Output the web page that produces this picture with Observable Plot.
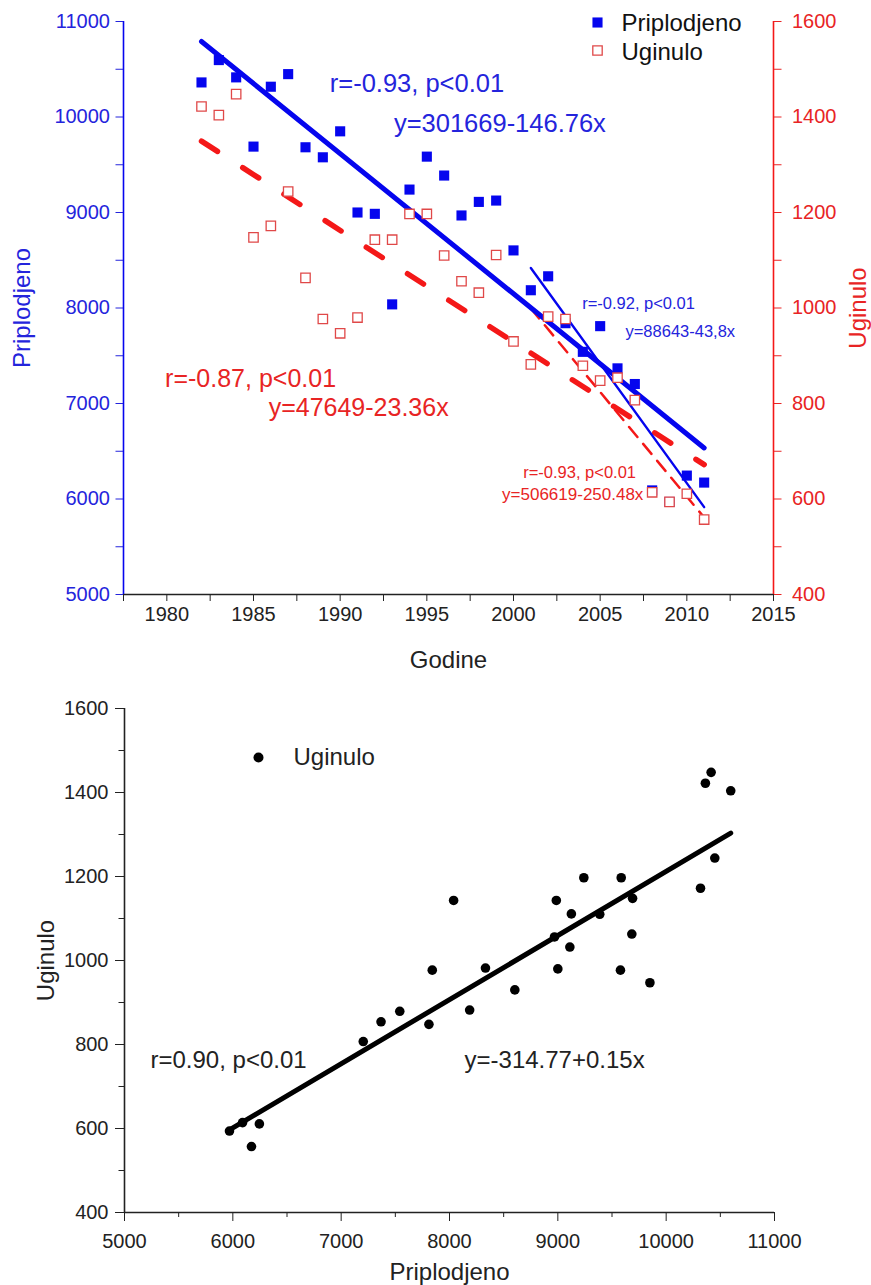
<!DOCTYPE html>
<html>
<head>
<meta charset="utf-8">
<script src="https://cdn.jsdelivr.net/npm/d3@7"></script>
<script src="https://cdn.jsdelivr.net/npm/@observablehq/plot@0.6"></script>
<style>
  html, body { margin: 0; padding: 0; background: #fff; }
  #wrap { width: 871px; height: 1285px; overflow: hidden; font-family: "Liberation Sans", Arial, sans-serif; }
  #wrap svg { display: block; }
</style>
</head>
<body>
<div id="wrap"></div>
<script>
// ---------------- data ----------------
const years = [1982, 1983, 1984, 1985, 1986, 1987, 1988, 1989, 1990, 1991,
               1992, 1993, 1994, 1995, 1996, 1997, 1998, 1999, 2000, 2001,
               2002, 2003, 2004, 2005, 2006, 2007, 2008, 2009, 2010, 2011];
const priplodjeno = [10362, 10596, 10415, 9690, 10317, 10449, 9683, 9578, 9850, 9000,
                     8986, 8038, 9240, 9585, 9387, 8969, 9111, 9125, 8603, 8186,
                     8332, 7841, 7541, 7810, 7368, 7204, 6090, 5969, 6245, 6172];
const uginulo = [1422, 1404, 1448, 1148, 1172, 1244, 1063, 977, 947, 980,
                 1143, 1143, 1197, 1197, 1110, 1056, 1032, 1111, 930, 882,
                 982, 977, 879, 848, 854, 807, 614, 594, 611, 557];

// fitted lines (intercept a, slope b, range)
const fitPriplodjeno = {a: 301669, b: -146.76, from: 1982, to: 2011};
const fitUginulo = {a: 47649, b: -23.36, from: 1982, to: 2011};
const fitPriplodjenoLate = {a: 509630, b: -250.48, from: 2001, to: 2011};
const fitUginuloLate = {a: 88643, b: -43.8, from: 2001, to: 2011};
const fitScatter = {a: -314.77, b: 0.1527};

// tick values
const yearMajor = [1980, 1985, 1990, 1995, 2000, 2005, 2010, 2015];
const yearMinor = [1977.5, 1982.5, 1987.5, 1992.5, 1997.5, 2002.5, 2007.5, 2012.5];
const leftMajor = [5000, 6000, 7000, 8000, 9000, 10000, 11000];
const leftMinor = [5500, 6500, 7500, 8500, 9500, 10500];
const rightMajor = [400, 600, 800, 1000, 1200, 1400, 1600];
const rightMinor = [500, 700, 900, 1100, 1300, 1500];
const bxMajor = [5000, 6000, 7000, 8000, 9000, 10000, 11000];
const bxMinor = [5500, 6500, 7500, 8500, 9500, 10500];
const byMajor = [400, 600, 800, 1000, 1200, 1400, 1600];
const byMinor = [500, 700, 900, 1100, 1300, 1500];

// ---------------- helpers ----------------
const FONT = "Liberation Sans, Arial, sans-serif";
const BLUE = "#0505ee", BLUE_T = "#2424dc";
const RED = "#f41818", RED_T = "#e82424", RED_SQ = "#e04848";
const AX = "#222";
const toLeft = u => 5000 + (u - 400) * 5;
const fromLeft = v => Math.round((v - 5000) / 5 + 400);
const fitLine = (f, map = v => v) => [f.from, f.to].map(x => ({x, y: map(f.a + f.b * x)}));

const rows = years.map((year, i) => ({year, p: priplodjeno[i], u: uginulo[i]}));

// ---------------- top chart ----------------
const chartTop = Plot.plot({
  width: 871, height: 680,
  marginTop: 21, marginBottom: 86, marginLeft: 123, marginRight: 98,
  style: {fontFamily: FONT, background: "white", overflow: "visible"},
  x: {domain: [1977.5, 2015]},
  y: {domain: [5000, 11000]},
  marks: [
    Plot.ruleY([5000], {stroke: AX, strokeWidth: 1.6}),
    Plot.ruleX([1977.5], {stroke: BLUE, strokeWidth: 1.6}),
    Plot.ruleX([2015], {stroke: RED, strokeWidth: 1.6}),
    Plot.axisX({ticks: yearMajor, tickSize: 7, tickPadding: 5, tickFormat: "d", fontSize: 20, color: AX, label: null}),
    Plot.axisX({ticks: yearMinor, tickSize: 7, tickFormat: () => "", color: AX, label: null}),
    Plot.axisY({ticks: leftMajor, tickSize: 7.5, tickPadding: 6, tickFormat: "d", fontSize: 20, color: BLUE_T, label: null}),
    Plot.axisY({ticks: leftMinor, tickSize: 7.5, tickFormat: () => "", color: BLUE_T, label: null}),
    Plot.axisY({anchor: "right", ticks: rightMajor.map(toLeft), tickSize: 7.5, tickPadding: 11, tickFormat: v => String(fromLeft(v)), fontSize: 20, color: RED_T, label: null}),
    Plot.axisY({anchor: "right", ticks: rightMinor.map(toLeft), tickSize: 7.5, tickFormat: () => "", color: RED_T, label: null}),
    Plot.text(["Priplodjeno"], {frameAnchor: "left", dx: -101, rotate: -90, textAnchor: "middle", lineAnchor: "middle", fill: BLUE_T, fontSize: 24}),
    Plot.text(["Uginulo"], {frameAnchor: "right", dx: 85, rotate: -90, textAnchor: "middle", lineAnchor: "middle", fill: RED_T, fontSize: 24}),
    Plot.text(["Godine"], {frameAnchor: "bottom", dy: 66, textAnchor: "middle", lineAnchor: "middle", fill: AX, fontSize: 24}),
    Plot.line(fitLine(fitUginulo, toLeft), {x: "x", y: "y", stroke: RED, strokeWidth: 5.5, strokeDasharray: "19,30", strokeLinecap: "round"}),
    Plot.line(fitLine(fitUginuloLate, toLeft), {x: "x", y: "y", stroke: RED, strokeWidth: 2.5, strokeDasharray: "13,9", strokeLinecap: "round"}),
    Plot.line(fitLine(fitPriplodjeno), {x: "x", y: "y", stroke: BLUE, strokeWidth: 5}),
    Plot.line(fitLine(fitPriplodjenoLate), {x: "x", y: "y", stroke: BLUE, strokeWidth: 2.4}),
    Plot.dot(rows, {x: "year", y: "p", symbol: "square", r: 5.7, fill: BLUE}),
    Plot.dot(rows, {x: "year", y: d => toLeft(d.u), symbol: "square", r: 5.3, fill: "white", stroke: RED_SQ, strokeWidth: 1.3}),
    Plot.text(["r=-0.93, p<0.01"], {x: 1989.4, y: 10344, textAnchor: "start", lineAnchor: "middle", fill: BLUE_T, fontSize: 25.5}),
    Plot.text(["y=301669-146.76x"], {x: 1993.1, y: 9926, textAnchor: "start", lineAnchor: "middle", fill: BLUE_T, fontSize: 25.5}),
    Plot.text(["r=-0.87, p<0.01"], {x: 1979.9, y: 7259, textAnchor: "start", lineAnchor: "middle", fill: RED_T, fontSize: 25}),
    Plot.text(["y=47649-23.36x"], {x: 1996.26, y: 6958, textAnchor: "end", lineAnchor: "middle", fill: RED_T, fontSize: 25}),
    Plot.text(["r=-0.92, p<0.01"], {x: 2003.96, y: 8041, textAnchor: "start", lineAnchor: "middle", fill: BLUE_T, fontSize: 16.5}),
    Plot.text(["y=88643-43,8x"], {x: 2006.46, y: 7751, textAnchor: "start", lineAnchor: "middle", fill: BLUE_T, fontSize: 16.5}),
    Plot.text(["r=-0.93, p<0.01"], {x: 2000.56, y: 6277, textAnchor: "start", lineAnchor: "middle", fill: RED_T, fontSize: 16.5}),
    Plot.text(["y=506619-250.48x"], {x: 1999.34, y: 6051, textAnchor: "start", lineAnchor: "middle", fill: RED_T, fontSize: 17}),
    Plot.dot(["Priplodjeno"], {frameAnchor: "top-left", dx: 474, dy: 1, symbol: "square", r: 5.7, fill: BLUE}),
    Plot.dot(["Uginulo"], {frameAnchor: "top-left", dx: 474, dy: 29, symbol: "square", r: 5.3, fill: "white", stroke: RED_SQ, strokeWidth: 1.3}),
    Plot.text(["Priplodjeno"], {frameAnchor: "top-left", dx: 498, dy: 2, textAnchor: "start", lineAnchor: "middle", fill: "#111", fontSize: 24}),
    Plot.text(["Uginulo"], {frameAnchor: "top-left", dx: 498, dy: 31, textAnchor: "start", lineAnchor: "middle", fill: "#111", fontSize: 24})
  ]
});

// ---------------- bottom chart ----------------
const pMin = d3.min(priplodjeno), pMax = d3.max(priplodjeno);
const scatterLine = [pMin, pMax].map(x => ({x, y: fitScatter.a + fitScatter.b * x}));

const chartBottom = Plot.plot({
  width: 871, height: 605,
  marginTop: 28, marginBottom: 73, marginLeft: 124, marginRight: 97,
  style: {fontFamily: FONT, background: "white", overflow: "visible"},
  x: {domain: [5000, 11000]},
  y: {domain: [400, 1600]},
  marks: [
    Plot.ruleY([400], {stroke: AX, strokeWidth: 1.6}),
    Plot.ruleX([5000], {stroke: AX, strokeWidth: 1.6}),
    Plot.axisX({ticks: bxMajor, tickSize: 9, tickPadding: 12, tickFormat: "d", fontSize: 20, color: AX, label: null}),
    Plot.axisX({ticks: bxMinor, tickSize: 5, tickFormat: () => "", color: AX, label: null}),
    Plot.axisY({ticks: byMajor, tickSize: 9, tickPadding: 7, tickFormat: "d", fontSize: 20, color: AX, label: null}),
    Plot.axisY({ticks: byMinor, tickSize: 5.5, tickFormat: () => "", color: AX, label: null}),
    Plot.text(["Uginulo"], {frameAnchor: "left", dx: -78, rotate: -90, textAnchor: "middle", lineAnchor: "middle", fill: AX, fontSize: 24}),
    Plot.text(["Priplodjeno"], {frameAnchor: "bottom", dy: 60, textAnchor: "middle", lineAnchor: "middle", fill: AX, fontSize: 24}),
    Plot.line(scatterLine, {x: "x", y: "y", stroke: "#000", strokeWidth: 5}),
    Plot.dot(rows, {x: "p", y: "u", r: 4.8, fill: "#000"}),
    Plot.text(["r=0.90, p<0.01"], {x: 5240, y: 762, textAnchor: "start", lineAnchor: "middle", fill: AX, fontSize: 24}),
    Plot.text(["y=-314.77+0.15x"], {x: 8139, y: 762, textAnchor: "start", lineAnchor: "middle", fill: AX, fontSize: 24}),
    Plot.dot(["Uginulo"], {frameAnchor: "top-left", dx: 134, dy: 49, r: 5, fill: "#000"}),
    Plot.text(["Uginulo"], {frameAnchor: "top-left", dx: 169, dy: 49, textAnchor: "start", lineAnchor: "middle", fill: AX, fontSize: 24})
  ]
});

const wrap = document.getElementById("wrap");
wrap.appendChild(chartTop);
wrap.appendChild(chartBottom);
</script>
</body>
</html>
